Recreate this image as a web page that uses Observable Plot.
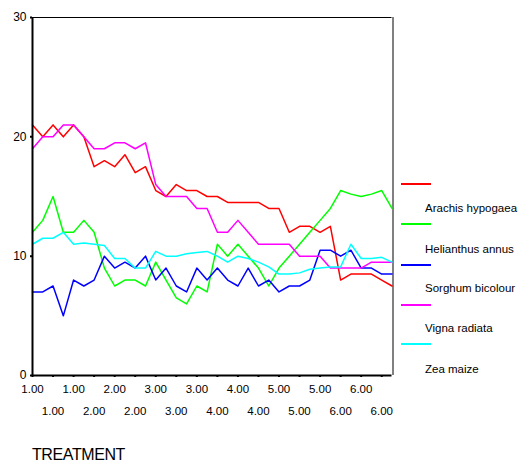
<!DOCTYPE html>
<html>
<head>
<meta charset="utf-8">
<script src="https://cdn.jsdelivr.net/npm/d3@7"></script>
<script src="https://cdn.jsdelivr.net/npm/@observablehq/plot@0.6"></script>
<style>
  html, body { margin: 0; padding: 0; background: #fff; }
  #wrap { position: relative; width: 527px; height: 464px; font-family: "Liberation Sans", Arial, sans-serif; }
  #chart { position: absolute; left: 0; top: 0; }
  .xtitle { position: absolute; left: 32px; top: 446px; font-size: 16px; letter-spacing: -0.4px; line-height: 18px; color: #000; }
  .leg-line { position: absolute; left: 401px; width: 30px; height: 2px; }
  .leg-label { position: absolute; left: 425px; font-size: 11.5px; line-height: 14px; color: #000; white-space: nowrap; }
</style>
</head>
<body>
<div id="wrap"><div id="chart"></div></div>
<script>
// ---- data ----
const seriesNames = ["Arachis hypogaea", "Helianthus annus", "Sorghum bicolour", "Vigna radiata", "Zea maize"];
const seriesColors = ["#ff0000", "#00ff00", "#0000ff", "#ff00ff", "#00ffff"];

const redValues = [21,20,21,20,21,20,17.5,18,17.5,18.5,17,17.5,15.5,15,16,15.5,15.5,15,15,14.5,14.5,14.5,14.5,14,14,12,12.5,12.5,12,12.5,8,8.5,8.5,8.5,8,7.5];
const greenValues = [12,13,15,12,12,13,12,9,7.5,8,8,7.5,9.5,8,6.5,6,7.5,7,11,10,11,10,9,7.5,9,10,11,12,13,14,15.5,15.2,15,15.2,15.5,14];
const blueValues = [7,7,7.5,5,8,7.5,8,10,9,9.5,9,10,8,9,7.5,7,9,8,9,8,7.5,9,7.5,8,7,7.5,7.5,8,10.5,10.5,10,10.5,9,9,8.5,8.5];
const magentaValues = [19,20,20,21,21,20,19,19,19.5,19.5,19,19.5,16,15,15,15,14,14,12,12,13,12,11,11,11,11,10,10,10,9,9,9,9,9.5,9.5,9.5];
const cyanValues = [11,11.5,11.5,12,11,11.1,11,10.9,9.8,9.8,9,9,10.4,10,10,10.2,10.3,10.4,10,9.5,10,9.8,9.5,9.1,8.5,8.5,8.6,8.9,9,9.1,9.1,11,9.8,9.8,9.9,9.5];

// x tick labels (every second case is labelled)
const tickLabels = ["1.00","1.00","1.00","2.00","2.00","2.00","3.00","3.00","3.00","4.00","4.00","4.00","5.00","5.00","5.00","6.00","6.00","6.00"];
const yTicks = [0, 10, 20, 30];

// legend as shown in the picture (line samples and labels offset)
const legendLabels = ["Arachis hypogaea", "Helianthus annus", "Sorghum bicolour", "Vigna radiata", "Zea maize"];

// ---- build table ----
const allValues = [redValues, greenValues, blueValues, magentaValues, cyanValues];
const rows = allValues.flatMap((vals, s) => vals.map((v, i) => ({i, v, s: seriesNames[s]})));
const ticks = tickLabels.map((label, k) => ({pos: k * 2, label, row: k % 2}));
const row1 = ticks.filter(d => d.row === 0);
const row2 = ticks.filter(d => d.row === 1);

const chart = Plot.plot({
  width: 527,
  height: 430,
  marginLeft: 32,
  marginTop: 17,
  marginRight: 135.5,
  marginBottom: 55,
  style: {fontFamily: "'Liberation Sans', Arial, sans-serif", background: "white", color: "black"},
  x: {domain: [0, 35], axis: null, label: null},
  y: {domain: [0, 30], axis: null, label: null},
  color: {domain: seriesNames, range: seriesColors},
  marks: [
    Plot.ruleY([30], {stroke: "black", strokeWidth: 1}),
    Plot.ruleX([35], {stroke: "#808080", strokeWidth: 2, dx: 1}),
    Plot.axisY({ticks: yTicks, label: null, tickSize: 2, tickPadding: 4, fontSize: 12, strokeWidth: 2, tickFormat: d => String(d)}),
    Plot.axisX({ticks: ticks.map(d => d.pos), label: null, tickSize: 2, strokeWidth: 2, tickFormat: () => ""}),
    Plot.line(rows, {x: "i", y: "v", z: "s", stroke: "s", strokeWidth: 1.5, curve: "linear"}),
    Plot.ruleX([0], {stroke: "black", strokeWidth: 2}),
    Plot.ruleY([0], {stroke: "black", strokeWidth: 2}),
    Plot.text(row1, {x: "pos", text: "label", frameAnchor: "bottom", dy: 17, fontSize: 11.5, fill: "black"}),
    Plot.text(row2, {x: "pos", text: "label", frameAnchor: "bottom", dy: 39, fontSize: 11.5, fill: "black"})
  ]
});
document.getElementById("chart").appendChild(chart);

const wrap = document.getElementById("wrap");
const lineY = [184, 224, 265, 305, 344];
const labelY = [208, 249, 288, 328, 369];
seriesColors.forEach((c, k) => {
  const l = document.createElement("div");
  l.className = "leg-line";
  l.style.top = (lineY[k] - 1) + "px";
  l.style.background = c;
  wrap.appendChild(l);
});
legendLabels.forEach((t, k) => {
  const d = document.createElement("div");
  d.className = "leg-label";
  d.style.top = (labelY[k] - 7) + "px";
  d.textContent = t;
  wrap.appendChild(d);
});
const title = document.createElement("div");
title.className = "xtitle";
title.textContent = "TREATMENT";
wrap.appendChild(title);
</script>
</body>
</html>
